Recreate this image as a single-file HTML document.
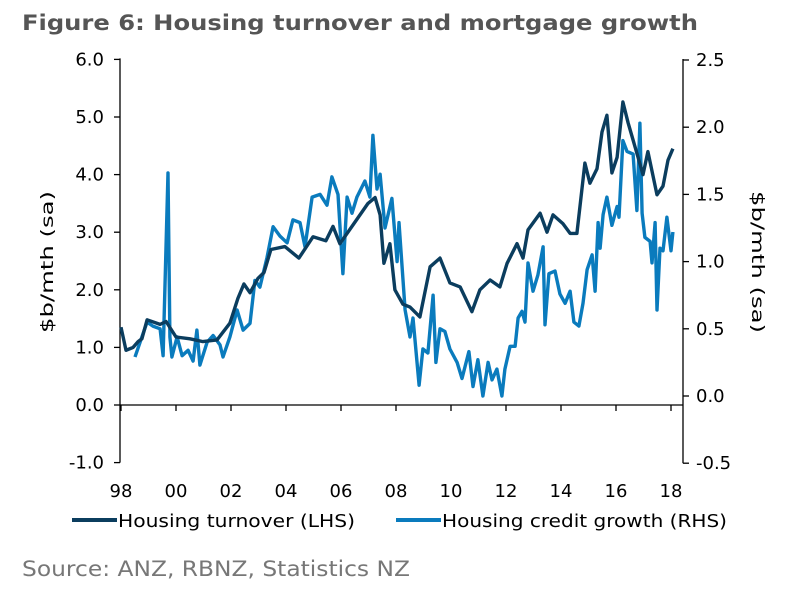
<!DOCTYPE html>
<html><head><meta charset="utf-8"><style>
body{margin:0;background:#fff;}
svg{display:block;font-family:"DejaVu Sans","Liberation Sans",sans-serif;}
</style></head><body>
<svg id="chart" width="801" height="592" viewBox="0 0 801 592" xmlns="http://www.w3.org/2000/svg">
<text x="22" y="30" font-size="21" font-weight="bold" fill="#555" textLength="676" lengthAdjust="spacingAndGlyphs">Figure 6: Housing turnover and mortgage growth</text>
<g id="axes"></g>
<g id="series"></g>
<text transform="translate(53,262) rotate(-90)" text-anchor="middle" font-size="17" fill="#000" textLength="142" lengthAdjust="spacingAndGlyphs">$b/mth (sa)</text>
<text transform="translate(752,262) rotate(90)" text-anchor="middle" font-size="17" fill="#000" textLength="142" lengthAdjust="spacingAndGlyphs">$b/mth (sa)</text>
<g>
<line x1="72" y1="520" x2="117" y2="520" stroke="#0b3d5e" stroke-width="4"/>
<text x="118" y="527" font-size="18" fill="#000" textLength="237" lengthAdjust="spacingAndGlyphs">Housing turnover (LHS)</text>
<line x1="396" y1="520" x2="441" y2="520" stroke="#0a7bbd" stroke-width="4"/>
<text x="442" y="527" font-size="18" fill="#000" textLength="285" lengthAdjust="spacingAndGlyphs">Housing credit growth (RHS)</text>
</g>
<text x="22" y="576" font-size="21" fill="#777" textLength="388" lengthAdjust="spacingAndGlyphs">Source: ANZ, RBNZ, Statistics NZ</text>
</svg>
<script>
const leftTicks=["6.0","5.0","4.0","3.0","2.0","1.0","0.0","-1.0"];
const leftTickVals=[6,5,4,3,2,1,0,-1];
const rightTicks=["2.5","2.0","1.5","1.0","0.5","0.0","-0.5"];
const rightTickVals=[2.5,2,1.5,1,0.5,0,-0.5];
const xTickLabels=["98","00","02","04","06","08","10","12","14","16","18"];
const xTickYears=[1998,2000,2002,2004,2006,2008,2010,2012,2014,2016,2018];
// years since 1998
const turnoverT=[0,.18,.44,.62,.76,.95,1.42,1.64,2.0,2.51,2.98,3.49,3.96,4.25,4.47,4.69,4.98,5.2,5.45,5.96,6.47,6.98,7.45,7.71,7.96,8.47,8.98,9.24,9.42,9.56,9.78,9.96,10.25,10.51,10.87,11.24,11.6,11.96,12.33,12.76,13.05,13.42,13.78,14.04,14.4,14.62,14.8,15.24,15.49,15.71,16.07,16.33,16.58,16.87,17.05,17.31,17.49,17.67,17.85,18.04,18.25,18.44,18.76,18.98,19.16,19.49,19.71,19.89,20.07];
const turnoverV=[1.35,0.95,1.0,1.1,1.15,1.48,1.4,1.45,1.18,1.15,1.1,1.13,1.42,1.85,2.1,1.95,2.2,2.3,2.7,2.75,2.55,2.92,2.85,3.1,2.8,3.15,3.5,3.6,3.3,2.46,2.8,2.0,1.75,1.7,1.53,2.4,2.55,2.12,2.05,1.62,2.0,2.17,2.05,2.46,2.8,2.55,3.04,3.33,3.0,3.3,3.15,2.98,2.98,4.2,3.85,4.1,4.74,5.03,4.03,4.3,5.26,4.9,4.37,4.0,4.4,3.65,3.8,4.25,4.45];
const creditT=[.51,.76,.95,1.16,1.42,1.53,1.71,1.78,1.85,2.04,2.22,2.44,2.62,2.76,2.87,3.13,3.35,3.6,3.71,3.96,4.22,4.44,4.69,4.87,5.05,5.31,5.53,5.78,6.04,6.25,6.51,6.69,6.95,7.24,7.49,7.67,7.89,8.07,8.22,8.4,8.58,8.87,9.05,9.16,9.31,9.42,9.6,9.85,10.04,10.11,10.33,10.51,10.62,10.84,10.98,11.16,11.35,11.45,11.6,11.78,11.96,12.22,12.4,12.65,12.8,12.98,13.16,13.35,13.49,13.67,13.85,13.96,14.15,14.33,14.44,14.58,14.69,14.8,14.98,15.16,15.35,15.42,15.56,15.78,15.96,16.15,16.33,16.47,16.65,16.8,16.95,17.13,17.24,17.35,17.42,17.53,17.67,17.85,18.04,18.11,18.25,18.4,18.62,18.76,18.87,18.95,19.05,19.24,19.31,19.42,19.49,19.6,19.71,19.85,20.0,20.07];
const creditV=[.29,.44,.55,.52,.5,.3,1.66,.44,.29,.44,.3,.34,.26,.49,.23,.4,.45,.38,.29,.44,.64,.49,.54,.86,.81,1.03,1.26,1.19,1.14,1.31,1.29,1.11,1.48,1.5,1.42,1.63,1.5,.91,1.48,1.36,1.48,1.6,1.48,1.94,1.54,1.65,1.25,1.47,1.0,1.29,.64,.44,.58,.08,.35,.32,.75,.25,.5,.48,.35,.25,.13,.33,.07,.27,0,.25,.12,.2,0,.2,.37,.37,.58,.63,.55,.99,.78,.9,1.11,.53,.91,.93,.76,.69,.78,.55,.52,.69,.94,1.05,.78,1.29,1.1,1.35,1.48,1.27,1.41,1.33,1.9,1.82,1.8,1.38,2.03,1.36,1.18,1.15,.99,1.29,.64,1.1,1.08,1.33,1.08,1.22];

const NS="http://www.w3.org/2000/svg";
const X0=121,PXY=27.5,L0=405,LU=57.6,R0=396,RU=134.4;
const xs=y=>X0+(y-1998)*PXY;
const xt=t=>X0+t*PXY;
const yl=v=>L0-v*LU;
const yr=v=>R0-v*RU;
function mk(tag,attrs,parent){const e=document.createElementNS(NS,tag);for(const k in attrs)e.setAttribute(k,attrs[k]);parent.appendChild(e);return e;}
const ax=document.getElementById('axes');
let e;
e=mk('line',{x1:120,y1:yl(6)-1,x2:120,y2:yl(-1),stroke:'#000','stroke-width':1.3},ax);


e=mk('line',{x1:683,y1:yr(2.5)-1,x2:683,y2:yr(-0.5),stroke:'#000','stroke-width':1.3},ax);


e=mk('line',{x1:120,y1:yl(0),x2:683,y2:yl(0),stroke:'#000','stroke-width':1.3},ax);


leftTickVals.forEach((v,i)=>{
  e=mk('line',{x1:114,y1:yl(v),x2:120,y2:yl(v),stroke:'#000','stroke-width':1.3},ax);
  
  
  e=mk('text',{x:104,y:yl(v)+6,'text-anchor':'end','font-size':18,fill:'#000'},ax);
  e.textContent=leftTicks[i];
  
  
});
rightTickVals.forEach((v,i)=>{
  e=mk('line',{x1:683,y1:yr(v),x2:689,y2:yr(v),stroke:'#000','stroke-width':1.3},ax);
  
  
  e=mk('text',{x:696,y:yr(v)+6,'text-anchor':'start','font-size':18,fill:'#000'},ax);
  e.textContent=rightTicks[i];
  
  
});
xTickYears.forEach((y,i)=>{
  e=mk('line',{x1:xs(y),y1:yl(0),x2:xs(y),y2:yl(0)+6,stroke:'#000','stroke-width':1.3},ax);
  
  
  e=mk('text',{x:xs(y),y:497,'text-anchor':'middle','font-size':18,fill:'#000'},ax);
  e.textContent=xTickLabels[i];
  
  
});
const sg=document.getElementById('series');
let d=creditT.map((t,i)=>(i?'L':'M')+xt(t).toFixed(1)+','+yr(creditV[i]).toFixed(1)).join('');
e=mk('path',{d:d,fill:'none',stroke:'#0a7bbd','stroke-width':3.4,'stroke-linejoin':'round'},sg);


d=turnoverT.map((t,i)=>(i?'L':'M')+xt(t).toFixed(1)+','+yl(turnoverV[i]).toFixed(1)).join('');
e=mk('path',{d:d,fill:'none',stroke:'#0b3d5e','stroke-width':3.4,'stroke-linejoin':'round'},sg);


</script>
</body></html>
